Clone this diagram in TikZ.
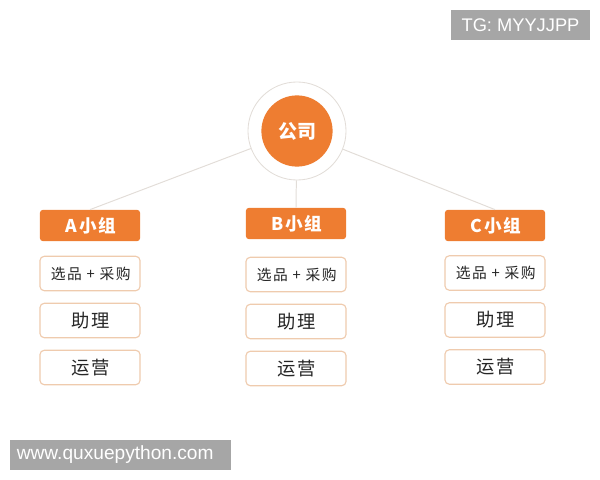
\documentclass[tikz,border=0pt]{standalone}
\usepackage{fontspec}
\setmainfont{Liberation Sans}
\newfontfamily\cjk{Noto Sans CJK SC}
\newfontfamily\cjkwide[LetterSpace=10]{Noto Sans CJK SC}
\usetikzlibrary{positioning}
\usetikzlibrary{calc}

\definecolor{orgfill}{HTML}{EE7D31}
\definecolor{boxline}{HTML}{EFCBAE}
\definecolor{ringline}{HTML}{E2DDD8}
\definecolor{markgray}{HTML}{A6A6A6}

\tikzset{
	grouphead/.style={draw=none, fill=orgfill, rounded corners=2pt, minimum width=2.5cm, minimum height=0.78cm, text=white, font=\cjkwide\bfseries\fontsize{12.5}{14}\selectfont, execute at begin node={\hspace{0.1em}}},
	jobbox/.style={draw=boxline, line width=0.8pt, fill=white, rounded corners=3pt, minimum width=2.5cm, minimum height=0.86cm, text=black!85, font=\cjkwide\fontsize{10.5}{12}\selectfont, execute at begin node={\hspace{0.1em}}},
	jobbig/.style={jobbox, font=\cjkwide\fontsize{13}{15}\selectfont},
	watermark/.style={fill=markgray, text=white, inner sep=0pt, font=\fontsize{13}{15}\selectfont}
}

\begin{document}
\begin{tikzpicture}[x=0.025cm, y=-0.025cm]
			\useasboundingbox (0,0) rectangle (600,480);
			
			% company circle
			\node[circle, draw=ringline, line width=0.6pt, fill=white, minimum size=2.45cm] (ring) at (297,131) {};
			\node[circle, fill=orgfill, minimum size=1.78cm, text=white, font=\cjk\bfseries\fontsize{13.5}{15}\selectfont] (company) at (297,131) {公司};
			
			% group heads
			\node[grouphead] (headA) at (90,225.5) {A小组};
			\node[grouphead] (headB) at (296,223.5) {B小组};
			\node[grouphead] (headC) at (495,225.5) {C小组};
			
			\draw[color=ringline, line width=0.7pt] (ring) -- (headA.north);
			\draw[color=ringline, line width=0.7pt] (ring) -- (headB.north);
			\draw[color=ringline, line width=0.7pt] (ring) -- (headC.north);
			
			% jobs under each group
			\foreach \g/\x/\y in {A/90/273.5, B/296/274.5, C/495/273}{
				\node[jobbox] (buy\g) at (\x,\y) {选品 + 采购};
				\node[jobbig] (help\g) at (\x,\y+47) {助理};
				\node[jobbig] (ops\g) at (\x,\y+94) {运营};
			}
			
			% watermarks
			\node[watermark, minimum width=3.48cm, minimum height=0.75cm] (tgmark) at (520.5,25) {TG: MYYJJPP};
			\node[watermark, minimum width=5.53cm, minimum height=0.75cm, text width=5.18cm, align=left, font=\fontsize{13.6}{15}\selectfont] (webmark) at (120.5,455) {www.quxuepython.com};
		\end{tikzpicture}
\end{document}
